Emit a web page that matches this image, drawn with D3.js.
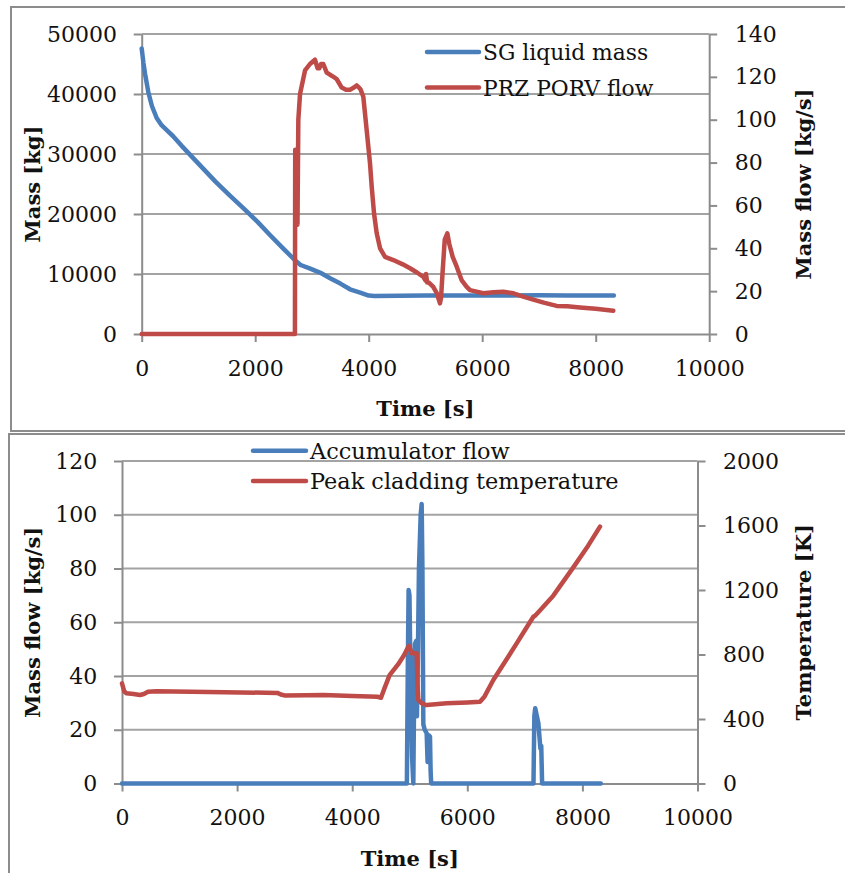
<!DOCTYPE html>
<html>
<head>
<meta charset="utf-8">
<script src="https://cdn.jsdelivr.net/npm/d3@7"></script>
<style>
  html, body { margin: 0; padding: 0; background: #fff; }
  svg { display: block; }
</style>
</head>
<body>
<div id="chart"></div>
<script>
// ---------------- DATA ----------------
// Top chart
const sgTime = [0, 30, 60, 117, 180, 264, 350, 450, 550, 700, 900, 1100, 1300, 1550, 1800, 2050, 2260, 2500, 2700, 2800, 2970, 3150, 3320, 3500, 3670, 3850, 4000, 4100, 5000, 6000, 7000, 7500, 8320];
const sgMass = [47600, 45200, 43300, 40300, 38000, 36000, 34800, 33900, 33000, 31400, 29400, 27400, 25400, 23100, 20900, 18600, 16500, 14200, 12300, 11500, 10900, 10200, 9300, 8400, 7450, 6900, 6400, 6350, 6400, 6420, 6450, 6430, 6430];

const porvTime = [0, 2700, 2705, 2720, 2735, 2745, 2760, 2790, 2878, 2965, 3053, 3100, 3129, 3160, 3200, 3260, 3318, 3380, 3435, 3524, 3600, 3671, 3740, 3788, 3830, 3859, 3905, 3965, 4023, 4053, 4094, 4141, 4200, 4288, 4434, 4600, 4728, 4850, 4963, 5000, 5010, 5030, 5060, 5138, 5200, 5256, 5275, 5300, 5340, 5386, 5420, 5480, 5551, 5640, 5727, 5785, 5900, 6020, 6200, 6372, 6550, 6724, 6900, 7100, 7312, 7500, 7723, 8000, 8310];
const porvFlow = [0, 0, 86, 86, 55, 51, 100, 112, 123, 126, 128, 124, 124, 126, 126, 122, 121, 120, 119, 115, 114, 114, 115, 116, 115, 114, 110.7, 95, 79.7, 68.7, 56.3, 47, 40, 36, 34.5, 32.5, 30.7, 28.7, 26.7, 25, 28, 24, 24, 22, 19, 14.3, 17, 28, 44, 47, 42, 36, 31.4, 25, 22, 20.5, 19.8, 19, 19.5, 19.7, 19, 17.4, 16, 14.5, 13.1, 12.9, 12.4, 11.8, 10.9];

// Bottom chart
const accTime = [0, 4950, 4965, 4980, 4995, 5010, 5040, 5062, 5075, 5091, 5110, 5125, 5140, 5160, 5190, 5207, 5220, 5236, 5260, 5294, 5310, 5330, 5352, 5362, 5372, 7150, 7165, 7180, 7200, 7235, 7270, 7285, 7300, 8320];
const accFlow = [0, 0, 40, 72, 70, 45, 10, 0, 30, 52, 53, 25, 45, 80, 100, 104, 80, 22, 20, 18.7, 8, 18, 17.4, 5, 0, 0, 25, 28, 26, 22.4, 13, 14, 0, 0];

const pctTime = [0, 40, 80, 200, 313, 380, 452, 600, 1500, 2700, 2760, 2840, 3200, 3500, 4000, 4440, 4500, 4560, 4650, 4800, 4900, 4975, 4990, 5034, 5121, 5136, 5149, 5200, 5276, 5294, 5642, 6000, 6221, 6300, 6452, 6700, 6858, 7000, 7148, 7177, 7242, 7494, 7842, 8100, 8306];
const pctTemp = [621, 570, 559, 555, 549, 555, 569, 572, 567, 562, 552, 545, 548, 549, 542, 538, 532, 590, 672, 740, 795, 848, 853, 807, 807, 600, 518, 500, 487, 487, 497, 503, 507, 540, 642, 780, 869, 950, 1034, 1040, 1065, 1165, 1340, 1475, 1593];

// Axis ticks and labels
const timeTicks = [0, 2000, 4000, 6000, 8000, 10000];
const massTicks = [0, 10000, 20000, 30000, 40000, 50000];
const porvTicks = [0, 20, 40, 60, 80, 100, 120, 140];
const accTicks = [0, 20, 40, 60, 80, 100, 120];
const tempTicks = [0, 400, 800, 1200, 1600, 2000];

const topLegend = ["SG liquid mass", "PRZ PORV flow"];
const bottomLegend = ["Accumulator flow", "Peak cladding temperature"];
const topTitles = { x: "Time [s]", yl: "Mass [kg]", yr: "Mass flow [kg/s]" };
const bottomTitles = { x: "Time [s]", yl: "Mass flow [kg/s]", yr: "Temperature [K]" };

// ---------------- STYLE ----------------
const BLUE = "#4a7ebb";
const RED = "#be4b48";
const GRID = "#a3a3a3";
const AXIS = "#8c8c8c";
const FONT = "'DejaVu Serif', Cambria, serif";

const W = 845, H = 873;
const svg = d3.select("#chart").append("svg")
  .attr("width", W).attr("height", H)
  .attr("viewBox", `0 0 ${W} ${H}`);
svg.append("rect").attr("width", W).attr("height", H).attr("fill", "#fff");

// frames
svg.append("rect").attr("x", 11).attr("y", 7).attr("width", 850).attr("height", 424)
  .attr("fill", "none").attr("stroke", AXIS).attr("stroke-width", 2);
svg.append("rect").attr("x", 9).attr("y", 434).attr("width", 850).attr("height", 460)
  .attr("fill", "none").attr("stroke", AXIS).attr("stroke-width", 2);

function drawChart(cfg) {
  const g = svg.append("g");
  const x = d3.scaleLinear().domain([0, 10000]).range([cfg.left, cfg.right]);
  const yl = d3.scaleLinear().domain([0, cfg.ylMax]).range([cfg.bottom, cfg.top]);
  const yr = d3.scaleLinear().domain([0, cfg.yrMax]).range([cfg.bottom, cfg.top]);

  // gridlines
  g.append("g").selectAll("line").data(cfg.ylTicks.filter(d => d > 0)).join("line")
    .attr("x1", cfg.left).attr("x2", cfg.right)
    .attr("y1", d => yl(d)).attr("y2", d => yl(d))
    .attr("stroke", GRID).attr("stroke-width", 2);

  const styleAxis = (sel) => {
    sel.select(".domain").attr("stroke", AXIS).attr("stroke-width", 2);
    sel.selectAll(".tick line").attr("stroke", AXIS).attr("stroke-width", 2);
    sel.selectAll(".tick text").attr("font-family", FONT).attr("font-size", 22).attr("fill", "#111");
  };

  g.append("g").attr("transform", `translate(0,${cfg.bottom})`)
    .call(d3.axisBottom(x).tickValues(timeTicks).tickFormat(d3.format("d"))
      .tickSize(8).tickSizeOuter(0).tickPadding(18))
    .call(styleAxis);
  g.append("g").attr("transform", `translate(${cfg.left},0)`)
    .call(d3.axisLeft(yl).tickValues(cfg.ylTicks).tickFormat(d3.format("d"))
      .tickSize(8).tickSizeOuter(0).tickPadding(16.7))
    .call(styleAxis);
  g.append("g").attr("transform", `translate(${cfg.right},0)`)
    .call(d3.axisRight(yr).tickValues(cfg.yrTicks).tickFormat(d3.format("d"))
      .tickSize(8).tickSizeOuter(0).tickPadding(17.5))
    .call(styleAxis);

  // series
  const mk = (ts, vs) => ts.map((t, i) => [t, vs[i]]);
  const lineL = d3.line().x(d => x(d[0])).y(d => yl(d[1]));
  const lineR = d3.line().x(d => x(d[0])).y(d => yr(d[1]));
  g.append("path").datum(mk(cfg.s1t, cfg.s1v)).attr("d", lineL)
    .attr("fill", "none").attr("stroke", BLUE).attr("stroke-width", 4.5)
    .attr("stroke-linejoin", "round").attr("stroke-linecap", "round");
  g.append("path").datum(mk(cfg.s2t, cfg.s2v)).attr("d", lineR)
    .attr("fill", "none").attr("stroke", RED).attr("stroke-width", 4.5)
    .attr("stroke-linejoin", "round").attr("stroke-linecap", "round");

  // legend
  const leg = g.append("g");
  [BLUE, RED].forEach((c, i) => {
    const ly = cfg.legY[i];
    leg.append("line").attr("x1", cfg.legX1).attr("x2", cfg.legX2)
      .attr("y1", ly).attr("y2", ly).attr("stroke", c).attr("stroke-width", 4.5)
      .attr("stroke-linecap", "round");
    leg.append("text").attr("x", cfg.legTX).attr("y", ly + 8)
      .attr("font-family", FONT).attr("font-size", cfg.legFont).attr("fill", "#111")
      .text(cfg.legend[i]);
  });

  // titles
  g.append("text").attr("x", (cfg.left + cfg.right) / 2).attr("y", cfg.bottom + 82)
    .attr("text-anchor", "middle").attr("font-family", FONT).attr("font-weight", "bold")
    .attr("font-size", 21).attr("fill", "#111").text(cfg.titles.x);
  g.append("text").attr("transform", `translate(40,${(cfg.top + cfg.bottom) / 2}) rotate(-90)`)
    .attr("text-anchor", "middle").attr("font-family", FONT).attr("font-weight", "bold")
    .attr("font-size", 21).attr("fill", "#111").text(cfg.titles.yl);
  g.append("text").attr("transform", `translate(811,${(cfg.top + cfg.bottom) / 2}) rotate(-90)`)
    .attr("text-anchor", "middle").attr("font-family", FONT).attr("font-weight", "bold")
    .attr("font-size", 21).attr("fill", "#111").text(cfg.titles.yr);
}

drawChart({
  left: 141.7, right: 709.2, top: 34, bottom: 334,
  ylMax: 50000, yrMax: 140, ylTicks: massTicks, yrTicks: porvTicks,
  s1t: sgTime, s1v: sgMass, s2t: porvTime, s2v: porvFlow,
  legend: topLegend, legY: [52, 87.5], legX1: 427, legX2: 479, legTX: 483, legFont: 21.8,
  titles: topTitles
});

drawChart({
  left: 122, right: 697.5, top: 461, bottom: 783.5,
  ylMax: 120, yrMax: 2000, ylTicks: accTicks, yrTicks: tempTicks,
  s1t: accTime, s1v: accFlow, s2t: pctTime, s2v: pctTemp,
  legend: bottomLegend, legY: [450.7, 481], legX1: 253, legX2: 306, legTX: 310, legFont: 22.4,
  titles: bottomTitles
});
</script>
</body>
</html>
